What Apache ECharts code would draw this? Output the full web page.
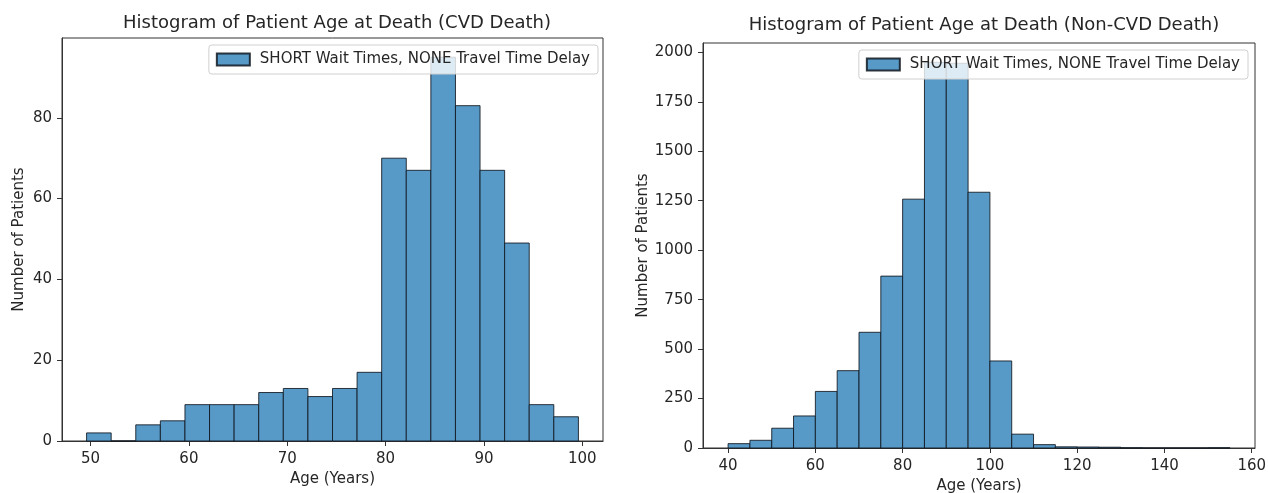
<!DOCTYPE html>
<html>
<head>
<meta charset="utf-8">
<script src="https://cdn.jsdelivr.net/npm/echarts@6/dist/echarts.min.js"></script>
<style>
html,body{margin:0;padding:0;background:#fff;}
#chart{width:1268px;height:493px;}
</style>
</head>
<body>
<div id="chart"></div>
<script>
// ---- Left chart: CVD Death ----
const cvdBinEdges = [49.6, 52.1, 54.6, 57.1, 59.6, 62.1, 64.6, 67.1, 69.6, 72.1, 74.6, 77.1, 79.6, 82.1, 84.6, 87.1, 89.6, 92.1, 94.6, 97.1, 99.6];
const cvdCounts = [2, 0, 4, 5, 9, 9, 9, 12, 13, 11, 13, 17, 70, 67, 95, 83, 67, 49, 9, 6];
const cvdXTicks = [50, 60, 70, 80, 90, 100];
const cvdYTicks = [0, 20, 40, 60, 80];

// ---- Right chart: Non-CVD Death ----
const nonCvdBinEdges = [40, 45, 50, 55, 60, 65, 70, 75, 80, 85, 90, 95, 100, 105, 110, 115, 120, 125, 130, 135, 140, 145, 150, 155];
const nonCvdCounts = [22, 39, 100, 162, 286, 391, 585, 869, 1258, 1950, 1945, 1293, 440, 70, 17, 6, 5, 4, 1, 0, 0, 0, 1];
const nonCvdXTicks = [40, 60, 80, 100, 120, 140, 160];
const nonCvdYTicks = [0, 250, 500, 750, 1000, 1250, 1500, 1750, 2000];

const titles = ['Histogram of Patient Age at Death (CVD Death)', 'Histogram of Patient Age at Death (Non-CVD Death)'];
const legendLabel = 'SHORT Wait Times, NONE Travel Time Delay';
const xName = 'Age (Years)';
const yName = 'Number of Patients';

const FONT = 'DejaVu Sans';
const FILL = '#5799c7';
const EDGE = 'rgba(15,22,30,0.85)';
const TXT = '#262626';

function toData(edges, counts) {
  return counts.map((c, i) => [edges[i], edges[i + 1], c]);
}
function renderItem(params, api) {
  const x0 = api.value(0), x1 = api.value(1), y = api.value(2);
  const p0 = api.coord([x0, y]);
  const p1 = api.coord([x1, 0]);
  return {
    type: 'rect',
    shape: { x: p0[0], y: p0[1], width: p1[0] - p0[0], height: p1[1] - p0[1] },
    style: { fill: FILL, stroke: EDGE, lineWidth: 1 }
  };
}
function pad(edges, frac) {
  const lo = edges[0], hi = edges[edges.length - 1];
  const m = (hi - lo) * frac;
  return [lo - m, hi + m];
}
const cvdX = pad(cvdBinEdges, 0.05);
const ncX = pad(nonCvdBinEdges, 0.05);
const cvdYMax = Math.max(...cvdCounts) * 1.05;
const ncYMax = Math.max(...nonCvdCounts) * 1.05;

function xAxis(idx, range, ticks, gap) {
  return {
    type: 'value', gridIndex: idx, min: range[0], max: range[1],
    name: xName, nameLocation: 'middle', nameGap: gap,
    nameTextStyle: { fontFamily: FONT, fontSize: 15, color: TXT },
    axisLine: { show: true, onZero: false, lineStyle: { color: '#333', width: 1 } },
    axisTick: { show: true, length: 5, lineStyle: { color: '#333' }, customValues: ticks },
    axisLabel: { fontFamily: FONT, fontSize: 15, color: TXT, margin: 11, customValues: ticks, formatter: v => String(v) },
    splitLine: { show: false }
  };
}
function yAxis(idx, max, ticks, gap) {
  return {
    type: 'value', gridIndex: idx, min: 0, max: max,
    name: yName, nameLocation: 'middle', nameGap: gap,
    nameTextStyle: { fontFamily: FONT, fontSize: 15, color: TXT },
    axisLine: { show: true, lineStyle: { color: '#333', width: 1 } },
    axisTick: { show: true, length: 5, lineStyle: { color: '#333' }, customValues: ticks },
    axisLabel: { fontFamily: FONT, fontSize: 15, color: TXT, margin: 10, customValues: ticks, formatter: v => String(v) },
    splitLine: { show: false }
  };
}
function legend(idx, right, top) {
  return {
    data: [legendLabel + (idx ? '\u200b' : '')],
    right: right, top: top, orient: 'vertical',
    backgroundColor: 'rgba(255,255,255,0.8)', borderColor: '#d0d0d0', borderWidth: 1, borderRadius: 3,
    padding: [7, 8, 7, 7], itemWidth: 33, itemHeight: 12, icon: 'rect',
    textStyle: { fontFamily: FONT, fontSize: 15, color: TXT, padding: [0, 0, 0, 5] }
  };
}

const chart = echarts.init(document.getElementById('chart'), null, { renderer: 'canvas' });
chart.setOption({
  animation: false,
  backgroundColor: '#fff',
  title: [
    { text: titles[0], left: 332, top: 9, textAlign: 'center', textStyle: { fontFamily: FONT, fontSize: 18, fontWeight: 'normal', color: TXT } },
    { text: titles[1], left: 979, top: 11, textAlign: 'center', textStyle: { fontFamily: FONT, fontSize: 18, fontWeight: 'normal', color: TXT } }
  ],
  grid: [
    { left: 62, right: 665, top: 38, bottom: 52, outerBoundsMode: 'none', containLabel: false, show: true, borderColor: '#333', borderWidth: 1, backgroundColor: '#fff' },
    { left: 703, right: 13, top: 43, bottom: 45, outerBoundsMode: 'none', containLabel: false, show: true, borderColor: '#333', borderWidth: 1, backgroundColor: '#fff' }
  ],
  legend: [legend(0, 670, 45), legend(1, 20, 50)],
  xAxis: [xAxis(0, cvdX, cvdXTicks, 30), xAxis(1, ncX, nonCvdXTicks, 30)],
  yAxis: [yAxis(0, cvdYMax, cvdYTicks, 35), yAxis(1, ncYMax, nonCvdYTicks, 52)],
  series: [
    { name: legendLabel, type: 'custom', xAxisIndex: 0, yAxisIndex: 0, renderItem: renderItem,
      encode: { x: [0, 1], y: 2 }, data: toData(cvdBinEdges, cvdCounts),
      itemStyle: { color: FILL, borderColor: EDGE, borderWidth: 1 } },
    { name: legendLabel + '\u200b', type: 'custom', xAxisIndex: 1, yAxisIndex: 1, renderItem: renderItem,
      encode: { x: [0, 1], y: 2 }, data: toData(nonCvdBinEdges, nonCvdCounts),
      itemStyle: { color: FILL, borderColor: EDGE, borderWidth: 1 } }
  ]
});
</script>
</body>
</html>
